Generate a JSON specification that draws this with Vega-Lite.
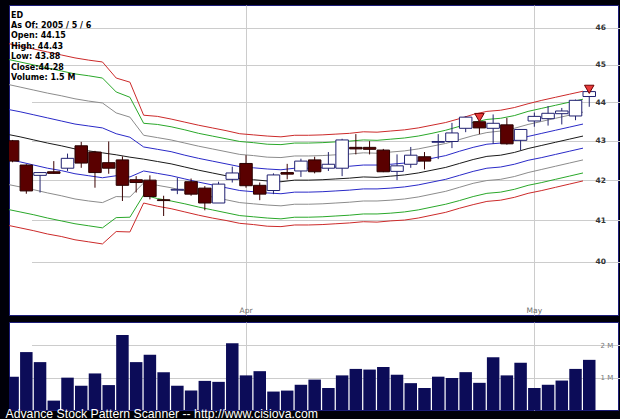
{
  "$schema": "https://vega.github.io/schema/vega-lite/v6.json",
  "background": "#000008",
  "padding": {"left": 5, "top": 4, "right": 6, "bottom": 0},
  "config": {
    "view": {"fill": "white", "stroke": "#1c1c78", "strokeWidth": 1},
    "concat": {"spacing": 5},
    "axis": {"gridColor": "#cccccc", "gridWidth": 1, "domain": false, "ticks": false, "tickSize": 0, "title": null}
  },
  "title": {
    "text": "Advance Stock Pattern Scanner -- http://www.cisiova.com",
    "orient": "bottom", "anchor": "start", "frame": "bounds", "color": "white",
    "font": "Liberation Sans", "fontSize": 12.25, "fontWeight": "normal", "baseline": "top", "offset": -3, "dx": -3
  },
  "datasets": {
    "days": [
      {"date": "2005-03-08", "o": 43.00, "h": 43.02, "l": 42.45, "c": 42.48, "v": 1030000, "r1": 45.58, "g1": 45.15, "s1": 44.48, "b1": 43.82, "m": 43.17, "b2": 42.53, "s2": 41.90, "g2": 41.28, "r2": 40.89},
      {"date": "2005-03-09", "o": 42.38, "h": 42.40, "l": 41.66, "c": 41.73, "v": 1790000, "r1": 45.50, "g1": 45.07, "s1": 44.40, "b1": 43.75, "m": 43.10, "b2": 42.46, "s2": 41.83, "g2": 41.21, "r2": 40.82},
      {"date": "2005-03-10", "o": 42.12, "h": 42.20, "l": 41.69, "c": 42.19, "v": 1480000, "r1": 45.42, "g1": 44.99, "s1": 44.32, "b1": 43.67, "m": 43.02, "b2": 42.38, "s2": 41.76, "g2": 41.14, "r2": 40.75},
      {"date": "2005-03-11", "o": 42.21, "h": 42.48, "l": 42.16, "c": 42.17, "v": 290000, "r1": 45.34, "g1": 44.91, "s1": 44.24, "b1": 43.59, "m": 42.94, "b2": 42.30, "s2": 41.68, "g2": 41.06, "r2": 40.67},
      {"date": "2005-03-14", "o": 42.30, "h": 42.67, "l": 42.23, "c": 42.55, "v": 1000000, "r1": 45.26, "g1": 44.83, "s1": 44.17, "b1": 43.51, "m": 42.87, "b2": 42.24, "s2": 41.61, "g2": 40.99, "r2": 40.61},
      {"date": "2005-03-15", "o": 42.87, "h": 42.97, "l": 42.31, "c": 42.43, "v": 750000, "r1": 45.18, "g1": 44.75, "s1": 44.09, "b1": 43.43, "m": 42.79, "b2": 42.16, "s2": 41.53, "g2": 40.92, "r2": 40.53},
      {"date": "2005-03-16", "o": 42.71, "h": 42.74, "l": 41.81, "c": 42.19, "v": 1130000, "r1": 45.12, "g1": 44.70, "s1": 44.03, "b1": 43.38, "m": 42.74, "b2": 42.11, "s2": 41.48, "g2": 40.87, "r2": 40.48},
      {"date": "2005-03-17", "o": 42.44, "h": 42.98, "l": 42.16, "c": 42.30, "v": 770000, "r1": 45.07, "g1": 44.64, "s1": 43.98, "b1": 43.33, "m": 42.69, "b2": 42.06, "s2": 41.44, "g2": 40.82, "r2": 40.43},
      {"date": "2005-03-18", "o": 42.51, "h": 42.60, "l": 41.48, "c": 41.87, "v": 2320000, "r1": 44.64, "g1": 44.27, "s1": 43.72, "b1": 43.18, "m": 42.64, "b2": 42.11, "s2": 41.59, "g2": 41.07, "r2": 40.73},
      {"date": "2005-03-21", "o": 42.01, "h": 42.10, "l": 41.69, "c": 41.94, "v": 1480000, "r1": 44.53, "g1": 44.13, "s1": 43.61, "b1": 43.09, "m": 42.58, "b2": 42.08, "s2": 41.58, "g2": 41.08, "r2": 40.72},
      {"date": "2005-03-22", "o": 42.00, "h": 42.12, "l": 41.52, "c": 41.59, "v": 1710000, "r1": 43.66, "g1": 43.45, "s1": 43.14, "b1": 42.84, "m": 42.53, "b2": 42.23, "s2": 41.93, "g2": 41.63, "r2": 41.43},
      {"date": "2005-03-23", "o": 41.51, "h": 41.61, "l": 41.11, "c": 41.49, "v": 1170000, "r1": 43.63, "g1": 43.42, "s1": 43.08, "b1": 42.78, "m": 42.47, "b2": 42.17, "s2": 41.87, "g2": 41.54, "r2": 41.35},
      {"date": "2005-03-24", "o": 41.75, "h": 42.06, "l": 41.65, "c": 41.77, "v": 750000, "r1": 43.56, "g1": 43.36, "s1": 43.02, "b1": 42.72, "m": 42.41, "b2": 42.11, "s2": 41.81, "g2": 41.48, "r2": 41.29},
      {"date": "2005-03-28", "o": 41.96, "h": 42.04, "l": 41.61, "c": 41.65, "v": 600000, "r1": 43.48, "g1": 43.28, "s1": 42.94, "b1": 42.63, "m": 42.33, "b2": 42.03, "s2": 41.73, "g2": 41.41, "r2": 41.21},
      {"date": "2005-03-29", "o": 41.80, "h": 41.85, "l": 41.25, "c": 41.43, "v": 900000, "r1": 43.40, "g1": 43.19, "s1": 42.86, "b1": 42.55, "m": 42.25, "b2": 41.95, "s2": 41.65, "g2": 41.33, "r2": 41.13},
      {"date": "2005-03-30", "o": 41.43, "h": 41.96, "l": 41.43, "c": 41.90, "v": 870000, "r1": 43.33, "g1": 43.12, "s1": 42.79, "b1": 42.48, "m": 42.18, "b2": 41.88, "s2": 41.58, "g2": 41.26, "r2": 41.06},
      {"date": "2005-03-31", "o": 42.02, "h": 42.34, "l": 41.94, "c": 42.18, "v": 2060000, "r1": 43.26, "g1": 43.05, "s1": 42.72, "b1": 42.41, "m": 42.11, "b2": 41.81, "s2": 41.51, "g2": 41.19, "r2": 41.00},
      {"date": "2005-04-01", "o": 42.42, "h": 42.63, "l": 41.81, "c": 41.86, "v": 1070000, "r1": 43.18, "g1": 42.98, "s1": 42.65, "b1": 42.34, "m": 42.04, "b2": 41.74, "s2": 41.44, "g2": 41.12, "r2": 40.93},
      {"date": "2005-04-04", "o": 41.87, "h": 41.94, "l": 41.50, "c": 41.65, "v": 1200000, "r1": 43.15, "g1": 42.95, "s1": 42.62, "b1": 42.31, "m": 42.01, "b2": 41.71, "s2": 41.41, "g2": 41.09, "r2": 40.90},
      {"date": "2005-04-05", "o": 41.74, "h": 42.17, "l": 41.65, "c": 42.13, "v": 570000, "r1": 43.12, "g1": 42.91, "s1": 42.58, "b1": 42.28, "m": 41.98, "b2": 41.68, "s2": 41.38, "g2": 41.06, "r2": 40.86},
      {"date": "2005-04-06", "o": 42.19, "h": 42.41, "l": 42.02, "c": 42.15, "v": 600000, "r1": 43.10, "g1": 42.90, "s1": 42.57, "b1": 42.26, "m": 41.96, "b2": 41.66, "s2": 41.36, "g2": 41.04, "r2": 40.85},
      {"date": "2005-04-07", "o": 42.23, "h": 42.54, "l": 42.08, "c": 42.48, "v": 780000, "r1": 43.14, "g1": 42.94, "s1": 42.61, "b1": 42.30, "m": 42.00, "b2": 41.70, "s2": 41.40, "g2": 41.08, "r2": 40.89},
      {"date": "2005-04-08", "o": 42.51, "h": 42.59, "l": 42.17, "c": 42.21, "v": 940000, "r1": 43.14, "g1": 42.94, "s1": 42.61, "b1": 42.30, "m": 42.00, "b2": 41.70, "s2": 41.40, "g2": 41.08, "r2": 40.89},
      {"date": "2005-04-11", "o": 42.30, "h": 42.71, "l": 42.23, "c": 42.40, "v": 680000, "r1": 43.15, "g1": 42.95, "s1": 42.62, "b1": 42.31, "m": 42.01, "b2": 41.71, "s2": 41.41, "g2": 41.09, "r2": 40.90},
      {"date": "2005-04-12", "o": 42.30, "h": 43.05, "l": 42.10, "c": 43.02, "v": 1070000, "r1": 43.17, "g1": 42.97, "s1": 42.64, "b1": 42.33, "m": 42.03, "b2": 41.73, "s2": 41.43, "g2": 41.11, "r2": 40.92},
      {"date": "2005-04-13", "o": 42.83, "h": 43.17, "l": 42.65, "c": 42.79, "v": 1270000, "r1": 43.19, "g1": 42.99, "s1": 42.66, "b1": 42.35, "m": 42.05, "b2": 41.75, "s2": 41.45, "g2": 41.13, "r2": 40.94},
      {"date": "2005-04-14", "o": 42.83, "h": 42.99, "l": 42.65, "c": 42.78, "v": 1250000, "r1": 43.23, "g1": 43.02, "s1": 42.69, "b1": 42.38, "m": 42.08, "b2": 41.78, "s2": 41.48, "g2": 41.16, "r2": 40.97},
      {"date": "2005-04-15", "o": 42.76, "h": 42.79, "l": 42.20, "c": 42.21, "v": 1330000, "r1": 43.22, "g1": 43.01, "s1": 42.68, "b1": 42.38, "m": 42.07, "b2": 41.78, "s2": 41.48, "g2": 41.16, "r2": 40.96},
      {"date": "2005-04-18", "o": 42.22, "h": 42.65, "l": 42.00, "c": 42.36, "v": 1090000, "r1": 43.25, "g1": 43.04, "s1": 42.71, "b1": 42.40, "m": 42.10, "b2": 41.80, "s2": 41.50, "g2": 41.18, "r2": 40.99},
      {"date": "2005-04-19", "o": 42.40, "h": 42.84, "l": 42.31, "c": 42.63, "v": 830000, "r1": 43.28, "g1": 43.07, "s1": 42.74, "b1": 42.43, "m": 42.13, "b2": 41.83, "s2": 41.53, "g2": 41.21, "r2": 41.01},
      {"date": "2005-04-20", "o": 42.59, "h": 42.71, "l": 42.27, "c": 42.48, "v": 680000, "r1": 43.33, "g1": 43.12, "s1": 42.79, "b1": 42.48, "m": 42.18, "b2": 41.88, "s2": 41.58, "g2": 41.26, "r2": 41.06},
      {"date": "2005-04-21", "o": 42.96, "h": 43.17, "l": 42.53, "c": 42.98, "v": 1030000, "r1": 43.40, "g1": 43.19, "s1": 42.86, "b1": 42.55, "m": 42.25, "b2": 41.95, "s2": 41.65, "g2": 41.33, "r2": 41.13},
      {"date": "2005-04-22", "o": 42.98, "h": 43.46, "l": 42.81, "c": 43.20, "v": 990000, "r1": 43.47, "g1": 43.27, "s1": 42.93, "b1": 42.62, "m": 42.32, "b2": 42.02, "s2": 41.72, "g2": 41.40, "r2": 41.20},
      {"date": "2005-04-25", "o": 43.32, "h": 43.63, "l": 43.22, "c": 43.61, "v": 1170000, "r1": 43.57, "g1": 43.37, "s1": 43.03, "b1": 42.73, "m": 42.42, "b2": 42.12, "s2": 41.82, "g2": 41.49, "r2": 41.30},
      {"date": "2005-04-26", "o": 43.49, "h": 43.55, "l": 43.17, "c": 43.33, "v": 840000, "sig": 43.60, "r1": 43.68, "g1": 43.47, "s1": 43.13, "b1": 42.83, "m": 42.52, "b2": 42.22, "s2": 41.92, "g2": 41.59, "r2": 41.39},
      {"date": "2005-04-27", "o": 43.32, "h": 43.68, "l": 42.92, "c": 43.45, "v": 1630000, "r1": 43.76, "g1": 43.55, "s1": 43.21, "b1": 42.91, "m": 42.60, "b2": 42.30, "s2": 41.99, "g2": 41.67, "r2": 41.47},
      {"date": "2005-04-28", "o": 43.41, "h": 43.59, "l": 42.90, "c": 42.92, "v": 1070000, "r1": 43.79, "g1": 43.58, "s1": 43.25, "b1": 42.94, "m": 42.63, "b2": 42.33, "s2": 42.02, "g2": 41.70, "r2": 41.50},
      {"date": "2005-04-29", "o": 43.01, "h": 43.30, "l": 42.76, "c": 43.29, "v": 1460000, "r1": 43.86, "g1": 43.65, "s1": 43.32, "b1": 43.01, "m": 42.70, "b2": 42.40, "s2": 42.09, "g2": 41.77, "r2": 41.57},
      {"date": "2005-05-02", "o": 43.51, "h": 43.73, "l": 43.36, "c": 43.63, "v": 680000, "r1": 43.96, "g1": 43.76, "s1": 43.42, "b1": 43.11, "m": 42.80, "b2": 42.50, "s2": 42.19, "g2": 41.87, "r2": 41.67},
      {"date": "2005-05-03", "o": 43.57, "h": 43.90, "l": 43.39, "c": 43.71, "v": 780000, "r1": 44.05, "g1": 43.84, "s1": 43.50, "b1": 43.19, "m": 42.88, "b2": 42.57, "s2": 42.27, "g2": 41.94, "r2": 41.74},
      {"date": "2005-05-04", "o": 43.70, "h": 43.85, "l": 43.42, "c": 43.77, "v": 910000, "r1": 44.13, "g1": 43.92, "s1": 43.58, "b1": 43.27, "m": 42.96, "b2": 42.65, "s2": 42.35, "g2": 42.02, "r2": 41.82},
      {"date": "2005-05-05", "o": 43.64, "h": 44.07, "l": 43.53, "c": 44.05, "v": 1270000, "r1": 44.21, "g1": 44.00, "s1": 43.66, "b1": 43.35, "m": 43.04, "b2": 42.73, "s2": 42.43, "g2": 42.10, "r2": 41.90},
      {"date": "2005-05-06", "o": 44.15, "h": 44.43, "l": 43.88, "c": 44.28, "v": 1550000, "sig": 44.34, "r1": 44.29, "g1": 44.08, "s1": 43.74, "b1": 43.43, "m": 43.12, "b2": 42.81, "s2": 42.51, "g2": 42.18, "r2": 41.98}
    ]
  },
  "vconcat": [
    {
      "width": 609,
      "height": 310,
      "title": {
        "text": ["ED", "As Of: 2005 / 5 / 6", "Open: 44.15", "High: 44.43", "Low: 43.88", "Close:44.28", "Volume: 1.5 M"],
        "anchor": "start", "orient": "top", "frame": "group", "offset": -77, "baseline": "top", "dx": 2,
        "font": "DejaVu Sans", "fontSize": 8, "fontWeight": "bold", "color": "black", "lineHeight": 10.4
      },
      "data": {"name": "days"},
      "encoding": {
        "x": {
          "field": "date", "type": "ordinal",
          "scale": {"type": "band", "range": [-2.65, 586.5], "paddingInner": 0.09, "paddingOuter": 0},
          "axis": {
            "values": ["2005-04-01", "2005-05-02"],
            "labelExpr": "datum.value == '2005-04-01' ? 'Apr' : 'May'",
            "orient": "bottom", "offset": -10, "grid": true, "bandPosition": 0.5,
            "labelFont": "DejaVu Sans", "labelFontSize": 7.5, "labelColor": "#707070",
            "labelPadding": 1, "labelAngle": 0, "labelBaseline": "top", "labelAlign": "center"
          }
        }
      },
      "layer": [
        {
          "transform": [{"fold": ["r1", "g1", "s1", "b1", "m", "b2", "s2", "g2", "r2"], "as": ["band", "val"]}],
          "mark": {"type": "line", "clip": true, "strokeWidth": 1},
          "encoding": {
            "x": {"field": "date", "type": "ordinal", "bandPosition": 0},
            "y": {
              "field": "val", "type": "quantitative",
              "scale": {"type": "log", "domain": [38.75, 46.63], "nice": false, "zero": false},
              "axis": {
                "orient": "right", "offset": -25, "values": [40, 41, 42, 43, 44, 45, 46], "grid": true,
                "labelFont": "DejaVu Sans", "labelFontSize": 7.5, "labelFontWeight": "bold", "labelColor": "#333333",
                "labelAlign": "left", "labelPadding": 2, "labelBaseline": "middle"
              }
            },
            "color": {
              "field": "band", "type": "nominal", "legend": null,
              "scale": {
                "domain": ["r1", "g1", "s1", "b1", "m", "b2", "s2", "g2", "r2"],
                "range": ["#cc2a2a", "#2aa82a", "#8c8c8c", "#2a2ac8", "#1a1a1a", "#2a2ac8", "#8c8c8c", "#2aa82a", "#cc2a2a"]
              }
            }
          }
        },
        {
          "mark": {"type": "rule", "clip": true, "strokeWidth": 1},
          "encoding": {
            "y": {"field": "l", "type": "quantitative"},
            "y2": {"field": "h"},
            "color": {"condition": {"test": "datum.c >= datum.o", "value": "#24246e"}, "value": "#3a0000"}
          }
        },
        {
          "mark": {"type": "bar", "clip": true, "strokeWidth": 1},
          "encoding": {
            "y": {"field": "o", "type": "quantitative"},
            "y2": {"field": "c"},
            "fill": {"condition": {"test": "datum.c >= datum.o", "value": "white"}, "value": "#5a0000"},
            "stroke": {"condition": {"test": "datum.c >= datum.o", "value": "#202070"}, "value": "#2a0000"}
          }
        },
        {
          "mark": {"type": "point", "shape": "triangle-down", "filled": true, "size": 90, "fill": "#e83a3a", "stroke": "#700000", "strokeWidth": 1, "opacity": 1},
          "encoding": {"y": {"field": "sig", "type": "quantitative"}}
        }
      ]
    },
    {
      "width": 609,
      "height": 88,
      "data": {"name": "days"},
      "mark": {"type": "bar", "clip": true, "fill": "#0c0c58"},
      "encoding": {
        "x": {
          "field": "date", "type": "ordinal",
          "scale": {"type": "band", "range": [-2.65, 586.5], "paddingInner": 0.09, "paddingOuter": 0},
          "axis": {"values": ["2005-04-01", "2005-05-02"], "labels": false, "grid": true, "bandPosition": 0.5, "orient": "bottom"}
        },
        "y": {
          "field": "v", "type": "quantitative",
          "scale": {"domain": [0, 2720000], "nice": false},
          "axis": {
            "orient": "right", "offset": -20, "values": [1000000, 2000000], "grid": true,
            "labelExpr": "(datum.value / 1000000) + ' M'",
            "labelFont": "DejaVu Sans", "labelFontSize": 7, "labelColor": "#777777",
            "labelAlign": "left", "labelPadding": 2, "labelBaseline": "middle"
          }
        }
      }
    }
  ]
}
